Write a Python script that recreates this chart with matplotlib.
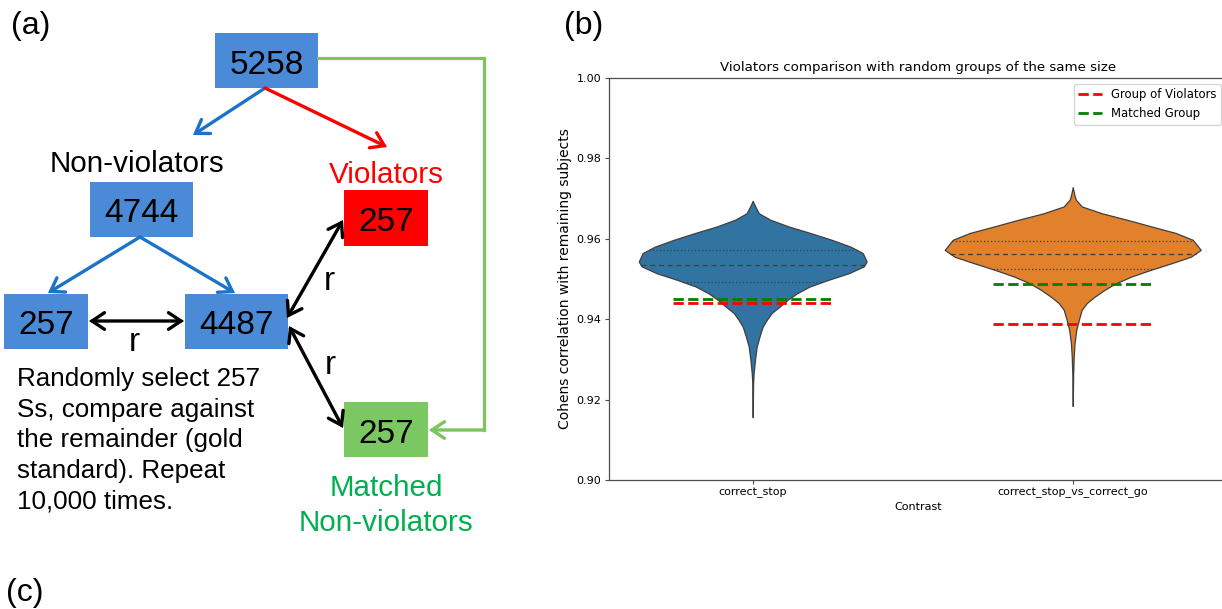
import numpy as np
import matplotlib
matplotlib.use("Agg")
import matplotlib.pyplot as plt
from matplotlib.patches import Rectangle, FancyArrowPatch

# ---------------- panel (b) data ----------------
contrasts = ["correct_stop", "correct_stop_vs_correct_go"]
violin_colors = ["#3274a1", "#e1812c"]

# violin outline: correlation level -> half width (category units)
stop_levels = [0.9694, 0.9680, 0.9663, 0.9647, 0.9630, 0.9614, 0.9597, 0.9580, 0.9564,
               0.9543, 0.9531, 0.9514, 0.9498, 0.9481, 0.9464, 0.9448, 0.9431, 0.9415,
               0.9398, 0.9381, 0.9356, 0.9332, 0.9299, 0.9266, 0.9240, 0.9156]
stop_width = [0, 0.008, 0.019, 0.055, 0.113, 0.180, 0.247, 0.306, 0.344,
              0.356, 0.347, 0.300, 0.238, 0.178, 0.138, 0.109, 0.084, 0.059,
              0.044, 0.031, 0.021, 0.0125, 0.0072, 0.003, 0.0012, 0]
go_levels = [0.9728, 0.9710, 0.9697, 0.9680, 0.9663, 0.9647, 0.9630, 0.9614, 0.9597,
             0.9572, 0.9555, 0.9539, 0.9522, 0.9506, 0.9489, 0.9473, 0.9456, 0.9440,
             0.9423, 0.9398, 0.9373, 0.9340, 0.9307, 0.9260, 0.9184]
go_width = [0, 0.0047, 0.0094, 0.028, 0.091, 0.169, 0.247, 0.322, 0.375,
            0.400, 0.369, 0.309, 0.242, 0.184, 0.134, 0.100, 0.069, 0.044,
            0.028, 0.019, 0.011, 0.0056, 0.0031, 0.0012, 0]
quartiles = [[0.9492, 0.9535, 0.9572], [0.9524, 0.9563, 0.9595]]
violators_r = [0.9440, 0.9389]
matched_r = [0.9449, 0.9486]

# ---------------- panel (a) numbers ----------------
box_counts = ["5258", "4744", "257", "257", "4487", "257"]
paragraph = ["Randomly select 257", "Ss, compare against", "the remainder (gold",
             "standard). Repeat", "10,000 times."]

W, H = 1222, 609
fig = plt.figure(figsize=(W / 100, H / 100), dpi=100)

# overlay in pixel coordinates for the diagram
ax0 = fig.add_axes([0, 0, 1, 1])
ax0.set_xlim(0, W)
ax0.set_ylim(H, 0)
ax0.axis("off")

arial = "Liberation Sans"
blue_box = "#4a8ad6"
blue_arrow = "#1a73c8"
green_box = "#7bc862"
green_line = "#7ac65c"
green_text = "#00b050"

# boxes: (x0, y0, w, h, color)
boxes = [(215, 33, 103, 55, blue_box),
         (90, 182, 103, 55, blue_box),
         (344, 190, 84, 56, "#ff0000"),
         (4, 294, 84, 55, blue_box),
         (185, 294, 103, 55, blue_box),
         (344, 402, 84, 55, green_box)]
box_text_y = [74, 221.7, 231, 334, 334, 443.3]
for (x0, y0, w, h, c), lab, ty in zip(boxes, box_counts, box_text_y):
    ax0.add_patch(Rectangle((x0, y0), w, h, facecolor=c, edgecolor="none"))
    ax0.text(x0 + w / 2, ty, lab, ha="center", va="baseline", fontsize=24, family=arial)

def arrow(p0, p1, color, style="->"):
    a = FancyArrowPatch(p0, p1, arrowstyle=style + ",head_length=0.45,head_width=0.3",
                        mutation_scale=20, lw=2.4, color=color, shrinkA=0, shrinkB=0,
                        capstyle="round", joinstyle="miter")
    ax0.add_patch(a)

arrow((265, 88), (193, 135), blue_arrow)
arrow((265, 88), (387, 147), "#ff0000")
arrow((140, 237), (48, 293), blue_arrow)
arrow((140, 237), (235, 293), blue_arrow)
arrow((89, 321), (184, 321), "black", "<->")
arrow((287, 318), (343, 220), "black", "<->")
arrow((289, 326), (343, 428), "black", "<->")

# green route from the total to the matched group
ax0.plot([318, 483.5, 483.5], [58.3, 58.3, 430], color=green_line, lw=2.3,
         solid_joinstyle="miter")
arrow((484.5, 430), (429, 430), green_line)

lab_fs = 21.3
ax0.text(137.5, 172.3, "Non-violators", ha="center", va="baseline", fontsize=lab_fs, family=arial)
ax0.text(386.7, 183.3, "Violators", ha="center", va="baseline", fontsize=lab_fs, family=arial,
         color="#ff0000")
ax0.text(386, 496, "Matched", ha="center", va="baseline", fontsize=lab_fs, family=arial,
         color=green_text)
ax0.text(386, 530.7, "Non-violators", ha="center", va="baseline", fontsize=lab_fs, family=arial,
         color=green_text)
for txt, (x, y) in zip(["r", "r", "r"], [(134.7, 350.7), (329.7, 290), (330, 374)]):
    ax0.text(x, y, txt, ha="center", va="baseline", fontsize=24, family=arial)
for i, line in enumerate(paragraph):
    ax0.text(17.3, 386 + i * 30.6, line, ha="left", va="baseline", fontsize=18.7, family=arial)

ax0.text(11, 26, "(a)", ha="left", va="center", fontsize=23, family=arial)
ax0.text(564, 26, "(b)", ha="left", va="center", fontsize=23, family=arial)
ax0.text(6, 593, "(c)", ha="left", va="center", fontsize=23, family=arial)

# ---------------- panel (b): violins ----------------
ax = fig.add_axes([609 / W, (H - 480) / H, 618 / W, 402.3 / H])
profiles = [(stop_levels, stop_width), (go_levels, go_width)]
edge = "#3f3f3f"
for i, (lv, wd) in enumerate(profiles):
    lv = np.array(lv)
    wd = np.array(wd)
    ax.fill_betweenx(lv, i - wd, i + wd, facecolor=violin_colors[i], edgecolor=edge, lw=0.9,
                     zorder=2)
    # quartile lines spanning the violin at that level
    order = np.argsort(lv)
    for k, q in enumerate(quartiles[i]):
        hw = np.interp(q, lv[order], wd[order])
        ls = (0, (4, 3)) if k == 1 else (0, (1, 1.8))
        ax.plot([i - hw, i + hw], [q, q], color=edge, lw=0.9, ls=ls, zorder=3)

x = np.arange(len(contrasts))
for i in x:
    ax.plot([i - 0.25, i + 0.25], [violators_r[i]] * 2, color="red", ls="--", lw=2,
            label="Group of Violators" if i == 0 else None, zorder=4)
    ax.plot([i - 0.25, i + 0.25], [matched_r[i]] * 2, color="green", ls="--", lw=2,
            label="Matched Group" if i == 0 else None, zorder=4)

ax.set_xlim(-0.449, 1.482)
ax.set_ylim(0.90, 1.00)
ax.set_xticks(x)
ax.set_xticklabels(contrasts, fontsize=8)
ax.set_yticks([0.90, 0.92, 0.94, 0.96, 0.98, 1.00])
ax.set_yticklabels(["0.90", "0.92", "0.94", "0.96", "0.98", "1.00"], fontsize=8)
ax.tick_params(length=3, width=0.8, pad=2.5, color="#4d4d4d")
for s in ax.spines.values():
    s.set_linewidth(0.9)
    s.set_color("#4d4d4d")
ax.set_xlabel("Contrast", fontsize=8, labelpad=2.5)
ax.set_ylabel("Cohens correlation with remaining subjects", fontsize=10, labelpad=3)
ax.set_title("Violators comparison with random groups of the same size", fontsize=9.6, pad=4.5)
ax.legend(loc="upper right", fontsize=8.4, handlelength=2.0, labelspacing=0.5,
          borderaxespad=0.5)

fig.savefig("out.png", dpi=100)
